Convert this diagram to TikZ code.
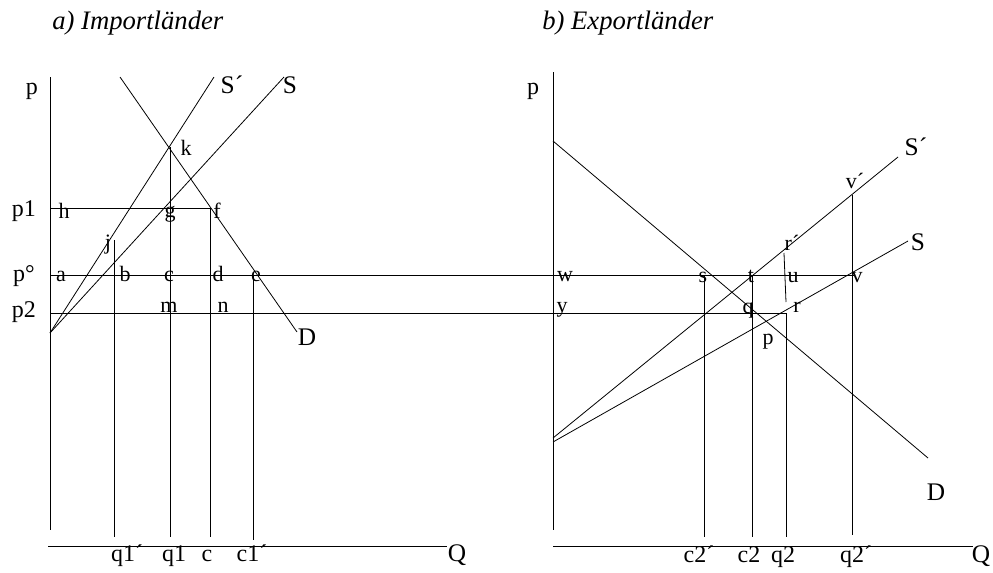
\documentclass[tikz,border=0pt]{standalone}
\usepackage{fontspec}
\setmainfont{Liberation Serif}
\begin{document}
\begin{tikzpicture}[x=0.75pt,y=-0.75pt,
  ln/.style={line width=0.6pt},
  big/.style={font=\fontsize{19}{19}\selectfont, inner sep=0pt, anchor=base},
  mid/.style={font=\fontsize{18}{18}\selectfont, inner sep=0pt, anchor=base},
  sml/.style={font=\fontsize{16.5}{16.5}\selectfont, inner sep=0pt, anchor=base},
  ttl/.style={font=\fontsize{20}{20}\selectfont\itshape, inner sep=0pt, anchor=base west}]
\useasboundingbox (0,0) rectangle (993,572);
% titles
\node[ttl] (ta) at (52,29) {a) Importländer};
\node[ttl] (tb) at (542,29) {b) Exportländer};
% ---------- left panel ----------
\coordinate (LAt) at (50,77);
\coordinate (LAb) at (50,530);
\coordinate (LX0) at (48,546);
\coordinate (LX1) at (447,546);
\coordinate (O1) at (50,333);
\coordinate (Sp1) at (214,77);
\coordinate (S1) at (284,77);
\coordinate (D0) at (120,77);
\coordinate (D1) at (297,332);
\coordinate (K) at (170,147);
\coordinate (Kb) at (170,537);
\coordinate (H) at (50,208);
\coordinate (F) at (210,208);
\coordinate (Fb) at (210,537);
\coordinate (A) at (50,275);
\coordinate (Vr) at (855,275);
\coordinate (P2l) at (50,313);
\coordinate (R) at (786,313);
\coordinate (J) at (114,240);
\coordinate (Jb) at (114,537);
\coordinate (E) at (253,275);
\coordinate (Eb) at (253,540);
\draw[ln] (LAt) -- (LAb);
\draw[ln] (LX0) -- (LX1);
\draw[ln] (O1) -- (Sp1);
\draw[ln] (O1) -- (S1);
\draw[ln] (D0) -- (D1);
\draw[ln] (K) -- (Kb);
\draw[ln] (H) -- (F) -- (Fb);
\draw[ln] (A) -- (Vr);
\draw[ln] (P2l) -- (R);
\draw[ln] (J) -- (Jb);
\draw[ln] (E) -- (Eb);
% left labels
\node[mid] (lp) at (32,94) {p};
\node[mid] (lp1) at (24,216) {p1};
\node[mid] (lp0) at (24,281) {p°};
\node[mid] (lp2) at (24,317) {p2};
\node[sml] (lh) at (64,218) {h};
\node[sml] (lg) at (170,217) {g};
\node[sml] (lf) at (217,218) {f};
\node[sml] (lj) at (108,249) {j};
\node[sml] (la) at (61,281) {a};
\node[sml] (lb) at (125,281) {b};
\node[sml] (lc) at (169,281) {c};
\node[sml] (ld) at (218,281) {d};
\node[sml] (le) at (256,281) {e};
\node[sml] (lm) at (169,312) {m};
\node[sml] (ln) at (223,312) {n};
\node[sml] (lk) at (186,155) {k};
\node[big] (lSp) at (232,93) {S´};
\node[big] (lS) at (290,93) {S};
\node[big] (lD) at (307,345) {D};
\node[mid] (lq1p) at (127,561) {q1´};
\node[mid] (lq1) at (174,561) {q1};
\node[mid] (lcc) at (207,561) {c};
\node[mid] (lc1p) at (252,561) {c1´};
\node[big] (lQ) at (457,561) {Q};
% ---------- right panel ----------
\coordinate (RAt) at (553,72);
\coordinate (RAb) at (553,530);
\coordinate (RX0) at (553,546);
\coordinate (RX1) at (973,546);
\coordinate (RD0) at (553,141);
\coordinate (RD1) at (928,458);
\coordinate (RSp0) at (553,438);
\coordinate (RSp1) at (898,157);
\coordinate (RS0) at (553,442);
\coordinate (RS1) at (908,241);
\coordinate (Sv) at (704,275);
\coordinate (Svb) at (704,537);
\coordinate (Tv) at (752,275);
\coordinate (Tvb) at (752,537);
\coordinate (Rp) at (784,253);
\coordinate (Rpb) at (786,302);
\coordinate (Rvb) at (786,537);
\coordinate (Vp) at (852,195);
\coordinate (Vpb) at (852,535);
\draw[ln] (RAt) -- (RAb);
\draw[ln] (RX0) -- (RX1);
\draw[ln] (RD0) -- (RD1);
\draw[ln] (RSp0) -- (RSp1);
\draw[ln] (RS0) -- (RS1);
\draw[ln] (Sv) -- (Svb);
\draw[ln] (Tv) -- (Tvb);
\draw[ln] (Rp) -- (Rpb);
\draw[ln] (R) -- (Rvb);
\draw[ln] (Vp) -- (Vpb);
% right labels
\node[mid] (rp) at (533,94) {p};
\node[sml] (rw) at (565,281) {w};
\node[sml] (rs) at (703,282) {s};
\node[sml] (rt) at (751,282) {t};
\node[sml] (ru) at (793,282) {u};
\node[sml] (rv) at (857,282) {v};
\node[sml] (ry) at (562,312) {y};
\node[sml] (rq) at (748,313) {q};
\node[sml] (rr) at (797,312) {r};
\node[sml] (rpp) at (768,344) {p};
\node[sml] (rrp) at (792,250) {r´};
\node[sml] (rvp) at (855,188) {v´};
\node[big] (rSp) at (916,155) {S´};
\node[big] (rS) at (918,250) {S};
\node[big] (rD) at (936,500) {D};
\node[mid] (rc2p) at (699,562) {c2´};
\node[mid] (rc2) at (749,562) {c2};
\node[mid] (rq2) at (783,562) {q2};
\node[mid] (rq2p) at (856,562) {q2´};
\node[big] (rQ) at (981,562) {Q};
\end{tikzpicture}
\end{document}
